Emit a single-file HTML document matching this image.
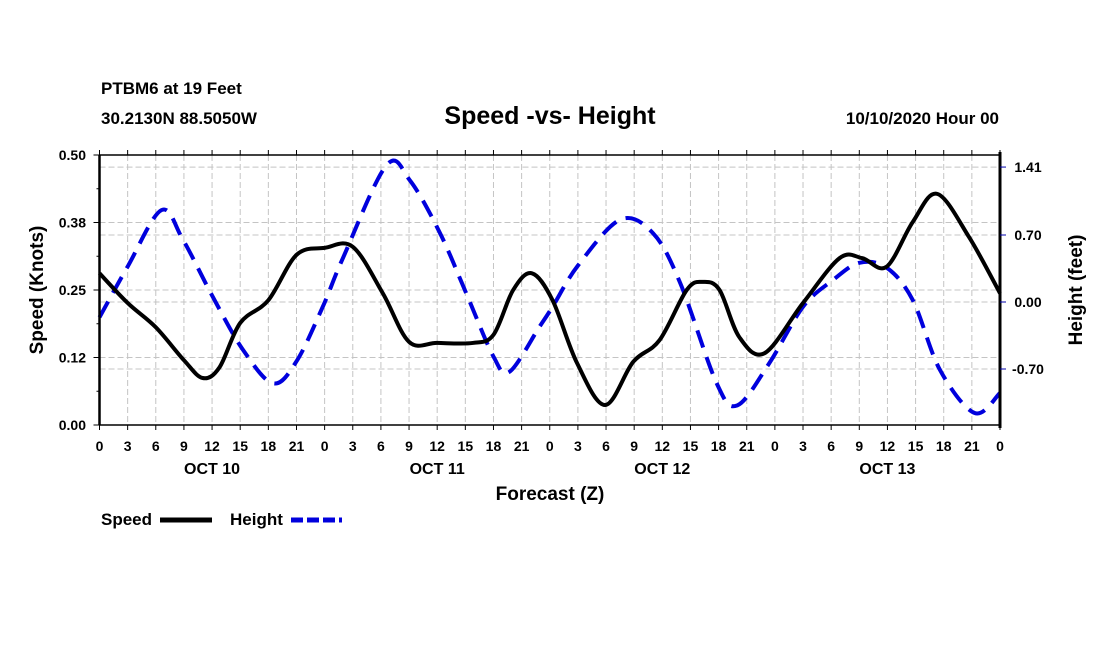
<!DOCTYPE html>
<html><head><meta charset="utf-8">
<style>
html,body{margin:0;padding:0;background:#fff;}
svg{display:block;font-family:"Liberation Sans",sans-serif;font-weight:bold;}
</style></head>
<body>
<svg id="chart" width="1100" height="650" viewBox="0 0 1100 650" xmlns="http://www.w3.org/2000/svg">
<rect width="1100" height="650" fill="#fff"/>
<text x="101" y="94" font-size="17">PTBM6 at 19 Feet</text>
<text x="101" y="124" font-size="17">30.2130N 88.5050W</text>
<text x="550" y="124" font-size="25" text-anchor="middle">Speed -vs- Height</text>
<text x="999" y="124" font-size="17" text-anchor="end">10/10/2020 Hour 00</text>
<g id="grid"></g>
<g id="series"></g>
<g id="axes"></g>
<text x="550" y="500" font-size="19" text-anchor="middle">Forecast (Z)</text>
<text transform="translate(43,290) rotate(-90)" font-size="19" text-anchor="middle">Speed (Knots)</text>
<text transform="translate(1082,290) rotate(-90)" font-size="19" text-anchor="middle">Height (feet)</text>
<g>
<text x="101" y="525" font-size="17">Speed</text>
<line x1="160" y1="520" x2="212" y2="520" stroke="#000" stroke-width="5"/>
<text x="230" y="525" font-size="17">Height</text>
<line x1="291" y1="520" x2="342" y2="520" stroke="#0000dd" stroke-width="5" stroke-dasharray="12,4"/>
</g>
</svg>
<script>
const speedHours=[0,3,6,9,11,12.8,15,18,21,24,27,30.2,33,36,39.8,42,44.1,46.1,48.3,50.9,53.9,56.9,59.7,62.6,64.3,66.1,68.2,70.9,75,78.9,81.3,83.9,86.7,89.3,92.7,96];
const speedValues=[0.281,0.226,0.181,0.12,0.087,0.107,0.189,0.231,0.315,0.328,0.33,0.244,0.154,0.152,0.152,0.167,0.25,0.281,0.231,0.115,0.037,0.117,0.157,0.25,0.265,0.25,0.163,0.133,0.226,0.309,0.309,0.293,0.376,0.428,0.348,0.244];
const heightHours=[0,3,6.6,8.9,12.1,15.3,18.5,21,23.8,26,30.6,33.1,36.3,39.1,42,43.7,46.9,48.3,51,55.5,59,61.9,65.8,68,71.4,75,78.2,81,83.9,86.7,89.6,93.3,96];
const heightValues=[-0.16,0.37,0.96,0.65,0.05,-0.5,-0.85,-0.62,-0.05,0.47,1.43,1.27,0.72,0.09,-0.57,-0.73,-0.26,-0.05,0.38,0.86,0.72,0.2,-0.85,-1.08,-0.64,-0.05,0.23,0.41,0.36,0.02,-0.71,-1.16,-0.95];
const leftTicks=[0,0.125,0.25,0.375,0.5];
const leftTickLabels=["0.00","0.12","0.25","0.38","0.50"];
const rightTicks=[1.41,0.70,0.0,-0.70];
const rightTickLabels=["1.41","0.70","0.00","-0.70"];
const dayLabels=["OCT 10","OCT 11","OCT 12","OCT 13"];

const X0=99.5,X1=1000,Y0=155,Y1=425;
const xs=h=>X0+(X1-X0)*h/96;
const ys=v=>Y1-(Y1-Y0)*v/0.5;
const yh=v=>302-v*95.7;
const NS="http://www.w3.org/2000/svg";
function mk(tag,attrs,parent){const e=document.createElementNS(NS,tag);for(const k in attrs)e.setAttribute(k,attrs[k]);parent.appendChild(e);return e;}
const grid=document.getElementById('grid'),axes=document.getElementById('axes'),series=document.getElementById('series');
const gs={stroke:"#c4c4c4","stroke-width":1,"stroke-dasharray":"6,3"};
for(let h=3;h<96;h+=3){const l=mk('line',Object.assign({x1:xs(h),x2:xs(h),y1:Y0,y2:Y1},gs),grid);

}
leftTicks.forEach((v,i)=>{if(v>0&&v<0.5){const l=mk('line',Object.assign({x1:X0,x2:X1,y1:ys(v),y2:ys(v)},gs),grid);

}});
rightTicks.forEach(v=>{const l=mk('line',Object.assign({x1:X0,x2:X1,y1:yh(v),y2:yh(v)},gs),grid);

});
function path(hours,vals,sc){const p=hours.map((h,i)=>[xs(h),sc(vals[i])]);let d=`M${p[0][0]},${p[0][1]}`;
for(let i=0;i<p.length-1;i++){const a=p[Math.max(0,i-1)],b=p[i],c=p[i+1],e=p[Math.min(p.length-1,i+2)];
const c1=[b[0]+(c[0]-a[0])/6,b[1]+(c[1]-a[1])/6],c2=[c[0]-(e[0]-b[0])/6,c[1]-(e[1]-b[1])/6];
d+=` C${c1[0]},${c1[1]} ${c2[0]},${c2[1]} ${c[0]},${c[1]}`;}return d;}
const hp=mk('path',{d:path(heightHours,heightValues,yh),fill:"none",stroke:"#0000dd","stroke-width":4,"stroke-dasharray":"18,10"},series);


const sp=mk('path',{d:path(speedHours,speedValues,ys),fill:"none",stroke:"#000","stroke-width":4},series);


const f1=mk('line',{x1:X0,x2:X1,y1:Y0,y2:Y0,stroke:"#000","stroke-width":1.5},axes);


const f2=mk('line',{x1:X0,x2:X1,y1:Y1,y2:Y1,stroke:"#000","stroke-width":1.5},axes);


const f3=mk('line',{x1:X0,x2:X0,y1:Y0,y2:Y1,stroke:"#000","stroke-width":2.5},axes);


const f4=mk('line',{x1:X1,x2:X1,y1:Y0-3,y2:Y1+3,stroke:"#000","stroke-width":3},axes);


for(let h=0;h<=96;h+=3){const x=xs(h);
mk('line',{x1:x,x2:x,y1:Y1,y2:Y1+5,stroke:"#000"},axes);mk('line',{x1:x,x2:x,y1:Y0,y2:Y0-5,stroke:"#000"},axes);
const t=mk('text',{x:x,y:451,"font-size":14,"text-anchor":"middle"},axes);t.textContent=String(h%24);

}
dayLabels.forEach((s,i)=>{const t=mk('text',{x:xs(12+24*i),y:474,"font-size":16,"text-anchor":"middle"},axes);t.textContent=s;

});
leftTicks.forEach((v,i)=>{mk('line',{x1:X0-6,x2:X0,y1:ys(v),y2:ys(v),stroke:"#000"},axes);
const t=mk('text',{x:86,y:ys(v)+5,"font-size":14,"text-anchor":"end"},axes);t.textContent=leftTickLabels[i];

});
for(let k=1;k<8;k+=2){const y=ys(k*0.0625);mk('line',{x1:X0-3,x2:X0,y1:y,y2:y,stroke:"#000"},axes);}
rightTicks.forEach((v,i)=>{mk('line',{x1:X1,x2:X1+6,y1:yh(v),y2:yh(v),stroke:"#00a"},axes);
const t=mk('text',{x:1028,y:yh(v)+5,"font-size":14,"text-anchor":"middle"},axes);t.textContent=rightTickLabels[i];

});
</script>
</body></html>
